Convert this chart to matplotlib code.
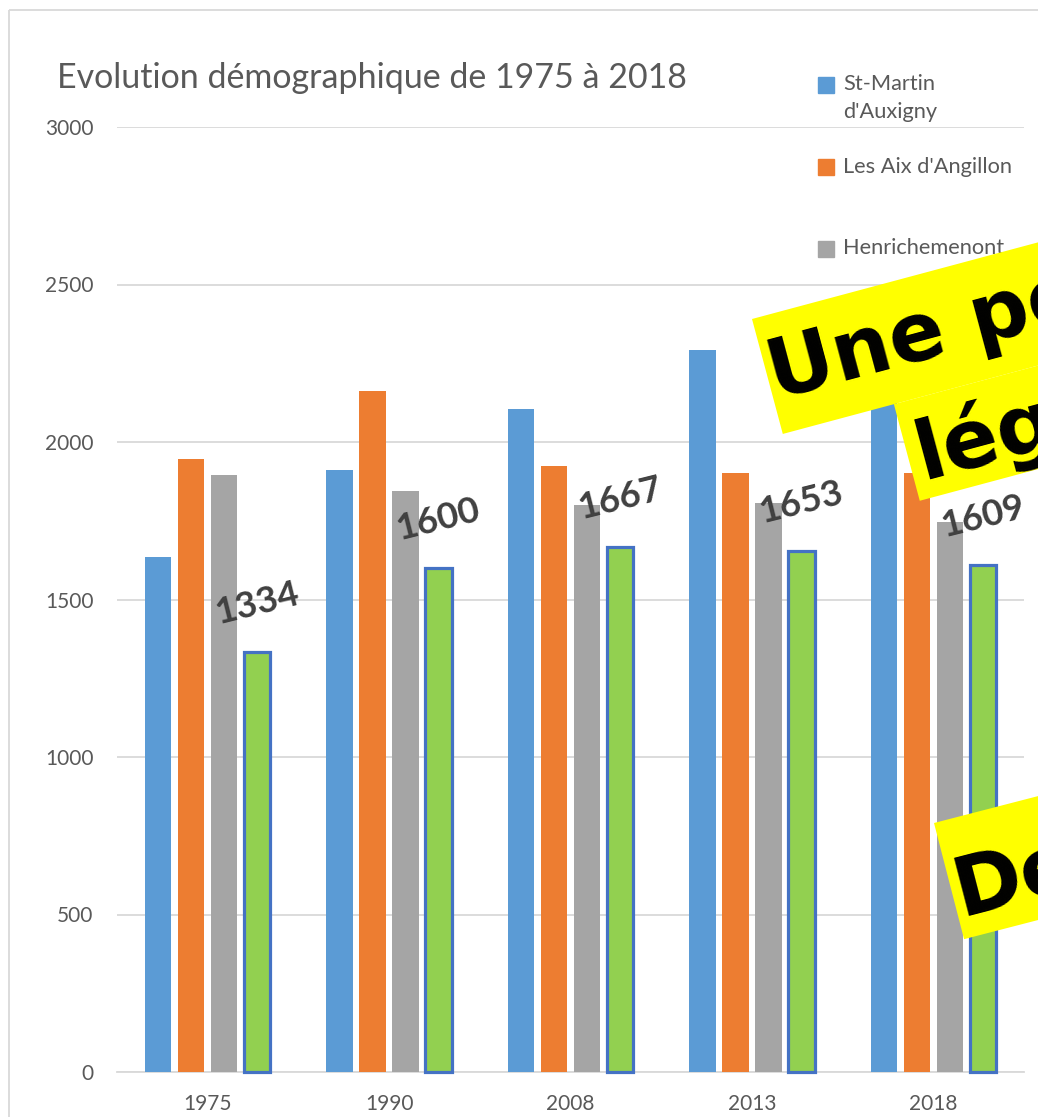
import numpy as np
import matplotlib
matplotlib.use("Agg")
import matplotlib.pyplot as plt
from matplotlib.transforms import Affine2D
from matplotlib.patches import Rectangle, Polygon

# ---------------- data ----------------
years = ["1975", "1990", "2008", "2013", "2018"]
st_martin = [1635, 1911, 2105, 2292, 2250]
les_aix = [1946, 2161, 1924, 1902, 1903]
henrichemont = [1895, 1845, 1800, 1806, 1745]
green_series = [1334, 1600, 1667, 1653, 1609]
legend_labels = ["St-Martin\nd'Auxigny", "Les Aix d'Angillon", "Henrichemenont"]
yticks = [0, 500, 1000, 1500, 2000, 2500, 3000]
title = "Evolution démographique de 1975 à 2018"
banner_lines = ["Une petite", "légende", "De"]

# ---------------- style ----------------
W, H = 1038, 1117
BLUE, ORANGE, GRAY, GREEN, EDGE = "#5B9BD5", "#ED7D31", "#A5A5A5", "#92D050", "#4472C4"
TXT = "#595959"
GRID = "#D9D9D9"
FONT = ["Lato", "DejaVu Sans"]

fig = plt.figure(figsize=(W / 100, H / 100), dpi=100)
pix = Affine2D().scale(1 / W, -1 / H).translate(0, 1) + fig.transFigure

# outer chart border (cropped at right/bottom)
fig.add_artist(Rectangle((9, 10), 1300, 1400, transform=pix, fill=False,
                         edgecolor=GRID, lw=1.3, zorder=0.5))

ax = fig.add_axes([117 / W, (H - 1072) / H, (1024 - 117) / W, (1072 - 127) / H])
x = np.arange(len(years))
bw = 0.145
step = 0.182
series = [(st_martin, BLUE), (les_aix, ORANGE), (henrichemont, GRAY)]
for j, (vals, col) in enumerate(series):
    ax.bar(x + (j - 1.5) * step, vals, width=bw, color=col, zorder=3)
gb = ax.bar(x + 1.5 * step, green_series, width=bw, color=GREEN,
            edgecolor=EDGE, linewidth=2.3, zorder=3)
for r in gb:
    r.set_clip_on(False)

for xi, v in zip(x, green_series):
    ax.annotate(f"{v}", (xi + 1.5 * step, v), xytext=(0, 35), textcoords="offset points",
                ha="center", va="center", rotation=14, fontsize=26.5, fontweight="bold",
                color="#404040", family=FONT, zorder=5)

ax.set_xlim(-0.5, 4.5)
ax.set_ylim(0, 3000)
ax.set_yticks(yticks)
ax.set_xticks(x)
ax.set_xticklabels(years)
ax.grid(axis="y", color=GRID, lw=1.3, zorder=0)
ax.set_axisbelow(True)
for s in ["top", "right", "left"]:
    ax.spines[s].set_visible(False)
ax.spines["bottom"].set_color(GRID)
ax.spines["bottom"].set_linewidth(1.3)
ax.tick_params(length=0, labelsize=15, labelcolor=TXT)
ax.tick_params(axis="y", pad=17)
ax.tick_params(axis="x", pad=16)
for lab in ax.get_xticklabels() + ax.get_yticklabels():
    lab.set_family(FONT)

# title
fig.text(57, 78, title, transform=pix, ha="left", va="center", fontsize=24.5,
         color=TXT, family=FONT)

# legend (manual)
leg_y = [84.5, 167, 248.5]
cols = [BLUE, ORANGE, GRAY]
for yy, col, lab in zip(leg_y, cols, legend_labels):
    fig.add_artist(Rectangle((818, yy - 8), 16, 16, transform=pix, color=col, zorder=2))
    if "\n" in lab:
        fig.text(843, yy - 11, lab, transform=pix, ha="left", va="top",
                 fontsize=15.7, color=TXT, family=FONT, linespacing=1.55)
    else:
        fig.text(843, yy, lab, transform=pix, ha="left", va="center",
                 fontsize=15.7, color=TXT, family=FONT)

# yellow banners
def banner(p0, ang, length, height, text, base_off, along_off):
    a = np.deg2rad(ang)
    u = np.array([np.cos(a), -np.sin(a)])
    v = np.array([np.sin(a), np.cos(a)])
    p0 = np.array(p0, float)
    pts = [p0, p0 + length * u, p0 + length * u + height * v, p0 + height * v]
    fig.add_artist(Polygon(pts, closed=True, transform=pix, facecolor="#FFFF00",
                           edgecolor="none", zorder=10))
    tp = p0 + base_off * v + along_off * u
    fig.text(tp[0], tp[1], text, transform=pix, rotation=ang, rotation_mode="anchor",
             ha="left", va="baseline", fontsize=59, fontweight="bold",
             color="black", family="DejaVu Sans", zorder=11)
    return p0, u, v

p0, u, v = banner((752, 319), 15, 700, 119, banner_lines[0], 84, 2)
p1 = p0 + 119 * v + 115 * u
banner(p1, 15, 700, 100, banner_lines[1], 80, 8)
banner((934, 823), 14.5, 500, 120, banner_lines[2], 97, 3)

fig.savefig("out.png", dpi=100)
